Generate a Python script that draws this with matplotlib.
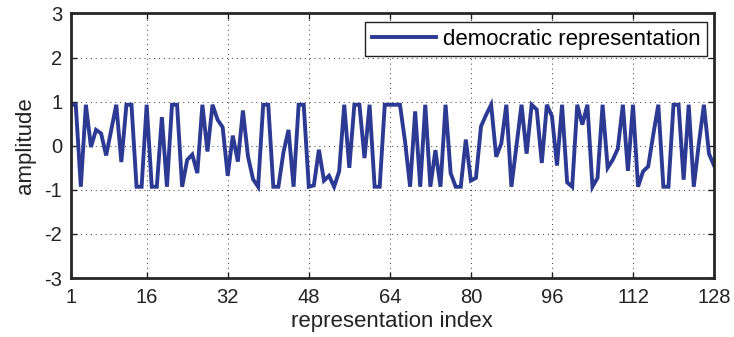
import matplotlib
matplotlib.use("Agg")
import matplotlib.pyplot as plt
import numpy as np

plt.rcParams['font.family'] = ['Liberation Sans', 'DejaVu Sans']
plt.rcParams['axes.unicode_minus'] = False

index = list(range(1, 129))
amplitude = [
    0.93, 0.93, -0.93, 0.93, -0.03, 0.36, 0.28, -0.22, 0.35, 0.93,
    -0.37, 0.93, 0.93, -0.93, -0.93, 0.93, -0.93, -0.93, 0.65, -0.93,
    0.93, 0.93, -0.93, -0.32, -0.20, -0.62, 0.93, -0.13, 0.93, 0.59,
    0.42, -0.68, 0.23, -0.36, 0.80, -0.24, -0.76, -0.93, 0.93, 0.93,
    -0.93, -0.93, -0.15, 0.36, -0.93, 0.93, 0.93, -0.93, -0.90, -0.09,
    -0.79, -0.68, -0.93, -0.58, 0.93, -0.50, 0.93, 0.93, -0.28, 0.93,
    -0.93, -0.93, 0.93, 0.93, 0.93, 0.93, 0.10, -0.93, 0.78, -0.93,
    0.93, -0.93, -0.10, -0.93, 0.93, -0.62, -0.93, -0.93, 0.14, -0.79,
    -0.73, 0.44, 0.70, 0.93, -0.25, 0.05, 0.93, -0.93, 0.00, 0.93,
    -0.18, 0.93, 0.82, -0.39, 0.93, 0.67, -0.45, 0.93, -0.83, -0.93,
    0.93, 0.48, 0.93, -0.93, -0.73, 0.93, -0.50, -0.32, -0.07, 0.93,
    -0.57, 0.93, -0.93, -0.58, -0.47, 0.25, 0.93, -0.93, -0.93, 0.93,
    0.93, -0.77, 0.93, -0.93, 0.05, 0.93, -0.18, -0.45,
]
xticks = [1, 16, 32, 48, 64, 80, 96, 112, 128]
yticks = [-3, -2, -1, 0, 1, 2, 3]
series_label = "democratic representation"

fig = plt.figure(figsize=(7.34, 3.37), dpi=100)
ax = fig.add_axes([0.0963, 0.175, 0.8765, 0.785])

ax.plot(index, amplitude, color='#2c3a93', lw=2.8, label=series_label,
        solid_joinstyle='miter')

ax.set_xlim(1, 128)
ax.set_ylim(-3, 3)
ax.set_xticks(xticks)
ax.set_yticks(yticks)
ax.grid(True, color='#333333', linestyle=(0, (1, 4)), lw=0.7)
ax.tick_params(direction='in', length=4, width=1, top=True, right=True,
               labelsize=14.5, colors='#222222')
ax.tick_params(axis='x', pad=7)
ax.tick_params(axis='y', pad=6)
for s in ax.spines.values():
    s.set_linewidth(2.0)
    s.set_color('#262626')

ax.set_xlabel('representation index', fontsize=16, labelpad=3, color='#222222')
ax.set_ylabel('amplitude', fontsize=16, labelpad=6, color='#222222')

leg = ax.legend(loc='upper right', fontsize=16, frameon=True, fancybox=False,
                handlelength=2.9, borderpad=0.3, handletextpad=0.3,
                borderaxespad=0, bbox_to_anchor=(0.989, 0.968))
leg.get_frame().set_edgecolor('#222222')
leg.get_frame().set_linewidth(1.0)
leg.get_frame().set_alpha(1)

fig.savefig('out.png', dpi=100)
